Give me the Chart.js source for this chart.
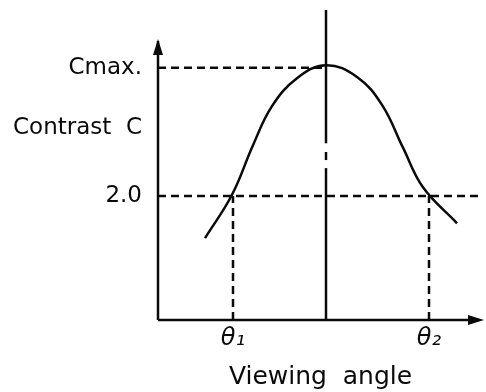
<!DOCTYPE html>
<html>
<head>
<meta charset="utf-8">
<script src="https://cdn.jsdelivr.net/npm/chart.js@4/dist/chart.umd.min.js"></script>
<style>
html,body{margin:0;padding:0;background:#fff;}
canvas{display:block;}
</style>
</head>
<body>
<canvas id="c" width="486" height="392"></canvas>
<script>
// Schematic data (arbitrary units: x = viewing angle, y = contrast)
const curveAngle    = [-60.5, -47, -36.5, -27, -14.5, 0, 15.5, 28, 38.5, 48.5, 65.5];
const curveContrast = [1.32, 2.02, 2.82, 3.45, 3.90, 4.11, 3.92, 3.47, 2.78, 2.14, 1.56];
const cMax = 4.07;
const cThreshold = 2.0;
const theta1 = -46.5;
const theta2 = 51.5;
const xMin = -84, xMax = 78.5;
const yMin = 0, yMax = 5, yArrow = 4.5;
const yTickValues = [cThreshold, 3.1, cMax];
const yTickLabels = ['2.0', 'Contrast  C', 'Cmax.'];
const xTickValues = [theta1, theta2];
const xTickLabels = ['θ₁', 'θ₂'];

const ink = '#0a0a0a';
const FONT = '"DejaVu Sans"';
const LW = 2.5;
const pts = (xs, ys) => xs.map((x, i) => ({x, y: ys[i]}));
const seg = (data, dash) => ({
  data, borderColor: ink, borderWidth: LW, borderDash: dash || [],
  pointRadius: 0, fill: false, clip: false, tension: 0
});

const arrowPlugin = {
  id: 'arrows',
  afterDatasetsDraw(chart) {
    const {ctx, scales: {x, y}} = chart;
    ctx.save();
    ctx.fillStyle = ink;
    const yx = x.getPixelForValue(xMin), yy = y.getPixelForValue(yArrow);
    ctx.beginPath();
    ctx.moveTo(yx, yy - 2);
    ctx.lineTo(yx - 5, yy + 14);
    ctx.lineTo(yx + 5, yy + 14);
    ctx.closePath();
    ctx.fill();
    const xx = x.getPixelForValue(xMax), xy = y.getPixelForValue(0);
    ctx.beginPath();
    ctx.moveTo(xx + 1, xy);
    ctx.lineTo(xx - 15, xy - 5);
    ctx.lineTo(xx - 15, xy + 5);
    ctx.closePath();
    ctx.fill();
    ctx.restore();
  }
};

new Chart(document.getElementById('c'), {
  type: 'line',
  data: {
    datasets: [
      Object.assign(seg(pts(curveAngle, curveContrast)), {tension: 0.4, borderJoinStyle: 'round'}),
      seg([{x: xMin, y: cMax}, {x: 0, y: cMax}], [8, 5]),
      seg([{x: xMin, y: cThreshold}, {x: xMax, y: cThreshold}], [8, 5]),
      seg([{x: theta1, y: 0}, {x: theta1, y: cThreshold}], [8, 5]),
      seg([{x: theta2, y: 0}, {x: theta2, y: cThreshold}], [8, 5]),
      seg([{x: 0, y: 0}, {x: 0, y: 2.45}]),
      seg([{x: 0, y: 2.58}, {x: 0, y: 2.71}]),
      seg([{x: 0, y: 2.85}, {x: 0, y: yMax}]),
      seg([{x: xMin, y: 0}, {x: xMin, y: yArrow}]),
      seg([{x: xMin, y: 0}, {x: xMax - 5, y: 0}])
    ]
  },
  options: {
    responsive: false,
    animation: false,
    devicePixelRatio: 1,
    layout: {padding: {top: 10, right: 3, bottom: 0, left: 0}},
    plugins: {legend: {display: false}, tooltip: {enabled: false}, title: {display: false}},
    scales: {
      x: {
        type: 'linear', min: xMin, max: xMax,
        grid: {display: false}, border: {display: false},
        afterBuildTicks: s => { s.ticks = xTickValues.map(v => ({value: v})); },
        afterFit: s => { s.height = 72; s.paddingLeft = 0; s.paddingRight = 0; },
        ticks: {
          color: ink, padding: -4, maxRotation: 0, autoSkip: false,
          font: {family: FONT, size: 24, style: 'italic'},
          callback: (v) => xTickLabels[xTickValues.indexOf(v)]
        },
        title: {
          display: true, text: 'Viewing  angle', color: ink,
          font: {family: FONT, size: 25}, padding: {top: 0, bottom: 0}
        }
      },
      y: {
        type: 'linear', min: yMin, max: yMax,
        grid: {display: false}, border: {display: false},
        afterBuildTicks: s => { s.ticks = yTickValues.map(v => ({value: v})); },
        afterFit: s => { s.width = 158; s.paddingTop = 0; s.paddingBottom = 0; },
        ticks: {
          color: ink, padding: 8, autoSkip: false,
          font: {family: FONT, size: 23},
          callback: (v) => yTickLabels[yTickValues.indexOf(v)]
        }
      }
    }
  },
  plugins: [arrowPlugin]
});
</script>
</body>
</html>
